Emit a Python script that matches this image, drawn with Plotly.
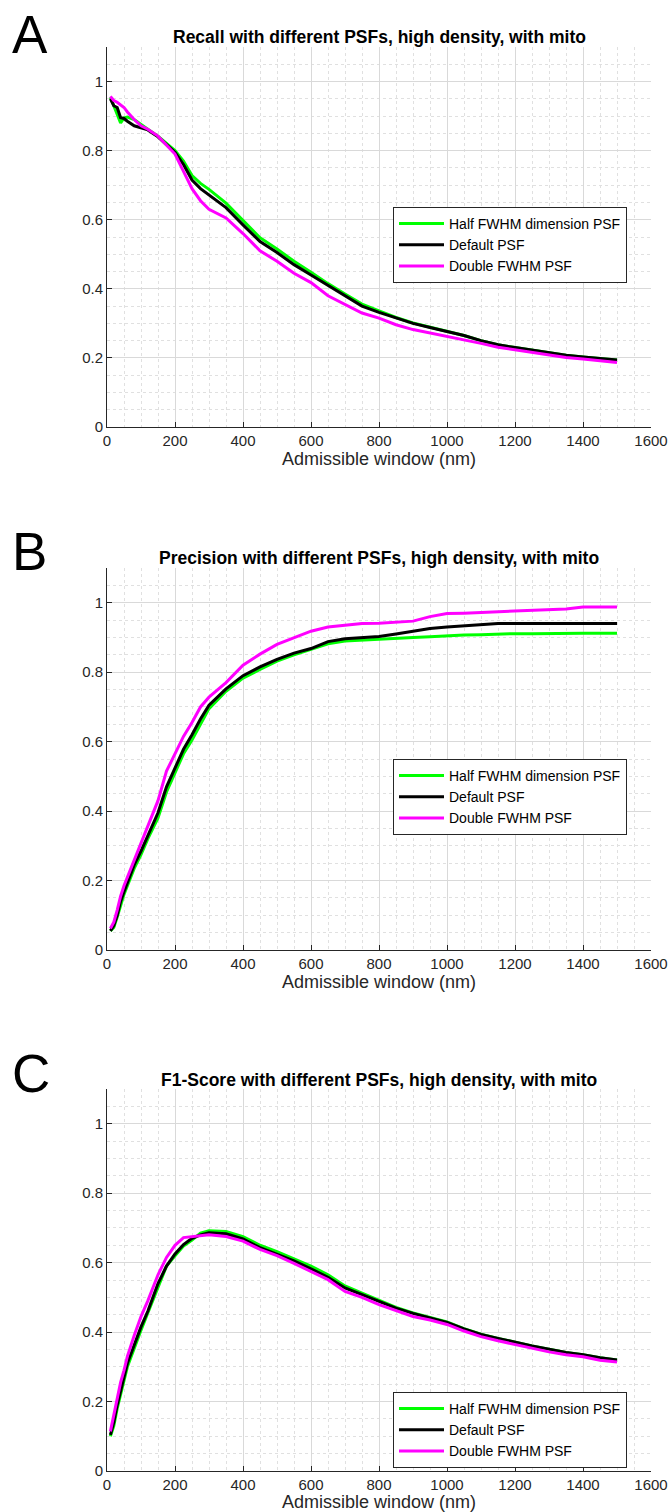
import plotly.graph_objects as go

# ---------------- data ----------------
x_nm = [10, 20, 30, 40, 50, 60, 80, 100, 120, 150, 175, 200, 225, 250, 275, 300,
        350, 400, 450, 500, 550, 600, 650, 700, 750, 800, 850, 900, 950, 1000,
        1050, 1100, 1150, 1200, 1250, 1300, 1350, 1400, 1450, 1500]

series_names = ["Half FWHM dimension PSF", "Default PSF", "Double FWHM PSF"]
series_colors = ["#00ff00", "#000000", "#ff00ff"]

recall_half = [0.955, 0.93, 0.90, 0.88, 0.895, 0.897, 0.89, 0.875, 0.862, 0.842, 0.822, 0.80, 0.77, 0.728, 0.705, 0.688,
               0.648, 0.597, 0.548, 0.515, 0.48, 0.448, 0.415, 0.385, 0.356, 0.336, 0.317, 0.301, 0.289, 0.278,
               0.265, 0.25, 0.238, 0.23, 0.222, 0.215, 0.208, 0.203, 0.198, 0.194]
recall_default = [0.95, 0.93, 0.925, 0.895, 0.893, 0.885, 0.872, 0.866, 0.86, 0.84, 0.818, 0.795, 0.76, 0.715, 0.69, 0.672,
                  0.635, 0.585, 0.537, 0.505, 0.47, 0.44, 0.41, 0.38, 0.35, 0.332, 0.315, 0.30, 0.288, 0.277,
                  0.265, 0.25, 0.238, 0.23, 0.222, 0.215, 0.208, 0.203, 0.198, 0.194]
recall_double = [0.957, 0.945, 0.94, 0.932, 0.925, 0.912, 0.89, 0.872, 0.862, 0.842, 0.815, 0.79, 0.74, 0.69, 0.655, 0.63,
                 0.605, 0.56, 0.51, 0.48, 0.445, 0.418, 0.38, 0.355, 0.33, 0.315, 0.296, 0.282, 0.272, 0.264,
                 0.254, 0.242, 0.231, 0.224, 0.216, 0.208, 0.201, 0.197, 0.192, 0.187]

precision_half = [0.055, 0.065, 0.095, 0.13, 0.16, 0.185, 0.235, 0.275, 0.32, 0.38, 0.455, 0.51, 0.565, 0.605, 0.65, 0.695,
                  0.745, 0.783, 0.808, 0.832, 0.85, 0.865, 0.882, 0.89, 0.893, 0.896, 0.898, 0.90, 0.902, 0.905,
                  0.907, 0.908, 0.91, 0.911, 0.911, 0.912, 0.912, 0.912, 0.912, 0.912]
precision_default = [0.055, 0.07, 0.10, 0.14, 0.168, 0.195, 0.245, 0.285, 0.33, 0.395, 0.47, 0.525, 0.578, 0.62, 0.665, 0.705,
                     0.752, 0.79, 0.815, 0.837, 0.855, 0.868, 0.888, 0.896, 0.90, 0.903, 0.91, 0.919, 0.926, 0.93,
                     0.933, 0.936, 0.94, 0.94, 0.94, 0.94, 0.94, 0.94, 0.94, 0.94]
precision_double = [0.062, 0.08, 0.115, 0.155, 0.185, 0.21, 0.26, 0.31, 0.355, 0.43, 0.515, 0.565, 0.615, 0.655, 0.70, 0.728,
                    0.77, 0.82, 0.852, 0.88, 0.90, 0.918, 0.93, 0.935, 0.94, 0.941, 0.943, 0.947, 0.96, 0.969,
                    0.97, 0.972, 0.976, 0.977, 0.978, 0.98, 0.982, 0.988, 0.988, 0.988]

f1_half = [0.10, 0.13, 0.18, 0.225, 0.26, 0.30, 0.355, 0.405, 0.455, 0.53, 0.59, 0.62, 0.648, 0.665, 0.685, 0.692,
           0.69, 0.675, 0.65, 0.632, 0.612, 0.59, 0.565, 0.533, 0.512, 0.491, 0.471, 0.455, 0.443, 0.429,
           0.41, 0.394, 0.382, 0.37, 0.36, 0.351, 0.341, 0.335, 0.326, 0.32]
f1_default = [0.104, 0.14, 0.19, 0.235, 0.27, 0.31, 0.365, 0.415, 0.46, 0.54, 0.59, 0.625, 0.652, 0.67, 0.68, 0.686,
              0.683, 0.668, 0.643, 0.625, 0.605, 0.582, 0.558, 0.527, 0.508, 0.488, 0.469, 0.454, 0.442, 0.428,
              0.409, 0.393, 0.382, 0.37, 0.36, 0.351, 0.341, 0.335, 0.326, 0.32]
f1_double = [0.114, 0.16, 0.21, 0.255, 0.29, 0.33, 0.39, 0.445, 0.49, 0.565, 0.615, 0.65, 0.672, 0.675, 0.678, 0.68,
             0.675, 0.662, 0.638, 0.62, 0.598, 0.575, 0.551, 0.517, 0.50, 0.479, 0.461, 0.445, 0.435, 0.422,
             0.403, 0.387, 0.375, 0.364, 0.353, 0.343, 0.335, 0.329, 0.319, 0.314]

panel_titles = ["Recall with different PSFs, high density, with mito",
                "Precision with different PSFs, high density, with mito",
                "F1-Score with different PSFs, high density, with mito"]
panel_letters = ["A", "B", "C"]
x_label = "Admissible window (nm)"
x_ticks = [0, 200, 400, 600, 800, 1000, 1200, 1400, 1600]
y_ticks = [0, 0.2, 0.4, 0.6, 0.8, 1.0]
y_ticklabels = ["0", "0.2", "0.4", "0.6", "0.8", "1"]

panels = [
    [recall_half, recall_default, recall_double],
    [precision_half, precision_default, precision_double],
    [f1_half, f1_default, f1_double],
]

# ---------------- layout geometry (page pixels) ----------------
W, H = 670, 1512
plot_left, plot_right = 107, 651
panel_tops = [47, 568, 1089]
panel_bottoms = [427, 950, 1471]
legend_tops = [207, 759, 1392]
title_ys = [37, 558, 1080]
letter_ys = [35, 551, 1073]

FONT = "Liberation Sans, Arial, Helvetica, sans-serif"
AXC = "#262626"

def px_x(p):
    return p / W

def px_y(p):
    return 1 - p / H

fig = go.Figure()
annotations = []
layout = dict(
    width=W, height=H,
    margin=dict(l=0, r=0, t=0, b=0, autoexpand=False),
    paper_bgcolor="white", plot_bgcolor="white",
    font=dict(family=FONT, color=AXC, size=15),
    showlegend=True,
)

for i, series in enumerate(panels):
    k = "" if i == 0 else str(i + 1)
    leg = "legend" if i == 0 else f"legend{i + 1}"
    for j, ys in enumerate(series):
        fig.add_trace(go.Scatter(
            x=x_nm, y=ys, mode="lines",
            name=series_names[j],
            line=dict(color=series_colors[j], width=3),
            xaxis="x" + k, yaxis="y" + k,
            legend=leg,
        ))
    layout["xaxis" + k] = dict(
        domain=[px_x(plot_left), px_x(plot_right)],
        anchor="y" + k,
        range=[0, 1600],
        tickvals=x_ticks,
        ticks="inside", ticklen=5, tickcolor=AXC,
        showline=True, linecolor=AXC, linewidth=1,
        showgrid=True, gridcolor="#d9d9d9", gridwidth=1,
        minor=dict(dtick=50, showgrid=True, gridcolor="#e0e0e0", griddash="dot", ticks=""),
        zeroline=False, automargin=False,
        tickfont=dict(size=15, color=AXC),
        title=dict(text=x_label, font=dict(size=18, color=AXC), standoff=3),
    )
    layout["yaxis" + k] = dict(
        domain=[px_y(panel_bottoms[i]), px_y(panel_tops[i])],
        anchor="x" + k,
        range=[0, 1.1],
        tickvals=y_ticks, ticktext=y_ticklabels,
        ticks="inside", ticklen=5, tickcolor=AXC,
        showline=True, linecolor=AXC, linewidth=1,
        showgrid=True, gridcolor="#d9d9d9", gridwidth=1,
        minor=dict(dtick=0.05, showgrid=True, gridcolor="#e0e0e0", griddash="dot", ticks=""),
        zeroline=False, automargin=False,
        tickfont=dict(size=15, color=AXC),
    )
    layout[leg] = dict(
        x=px_x(393), y=px_y(legend_tops[i]),
        xanchor="left", yanchor="top",
        bgcolor="white", bordercolor="#262626", borderwidth=1,
        font=dict(size=14, color="#000000"),
        tracegroupgap=0, itemwidth=45,
    )
    annotations.append(dict(
        text="<b>" + panel_titles[i] + "</b>", xref="paper", yref="paper",
        x=px_x((plot_left + plot_right) / 2), y=px_y(title_ys[i]),
        xanchor="center", yanchor="middle", showarrow=False,
        font=dict(size=17.5, color="#000000"),
    ))
    annotations.append(dict(
        text=panel_letters[i], xref="paper", yref="paper",
        x=px_x(10), y=px_y(letter_ys[i]),
        xanchor="left", yanchor="middle", showarrow=False,
        font=dict(size=53, color="#000000"),
    ))

layout["annotations"] = annotations
fig.update_layout(**layout)
fig.write_html(
    "out.html",
    config={"displayModeBar": False},
    post_script="document.body.style.margin='0';document.body.style.overflow='hidden';",
)
